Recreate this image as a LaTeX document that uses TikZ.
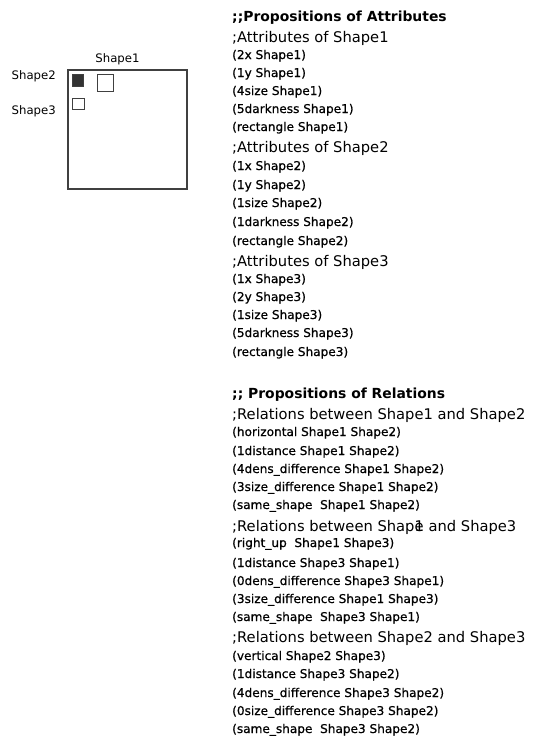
\documentclass[tikz,border=0pt]{standalone}
\usepackage{fontspec}
\setmainfont{DejaVu Sans}
\newfontfamily\propfont{DejaVu Sans}[FakeBold=0.7]
\usetikzlibrary{positioning}
\newcommand{\Shp}[1]{Shape#1}

\begin{document}
\begin{tikzpicture}[x=1pt,y=-1pt,
  ttl/.style={anchor=base west,inner sep=0pt,font=\fontsize{13.9}{16}\selectfont\bfseries},
  hd/.style={anchor=base west,inner sep=0pt,font=\fontsize{14.7}{17}\selectfont},
  prop/.style={anchor=base west,inner sep=0pt,font=\propfont\fontsize{12.1}{14}\selectfont},
  lbl/.style={inner sep=0pt,font=\fontsize{11.7}{14}\selectfont},
  shp/.style={draw=black!75,line width=1pt,inner sep=0pt}]
\useasboundingbox (0,0) rectangle (533,736);
% the scene
\node[shp,line width=1.3pt,minimum size=119pt] (canvas) at (127.5,129.5) {};
\node[shp,fill=black!80,minimum width=11pt,minimum height=12pt] (s2) at (77.5,80) {};
\node[shp,fill=white,minimum width=16pt,minimum height=17pt] (s1) at (105,82.5) {};
\node[shp,fill=white,minimum width=12pt,minimum height=11pt] (s3) at (78,103.5) {};
\node[lbl,above=4pt of canvas.north,xshift=-10pt] (l1) {\Shp1};
\node[lbl,anchor=east] (l2) at (56,76) {\Shp2};
\node[lbl,anchor=east] (l3) at (56,111) {\Shp3};
% propositions
\foreach \y/\s/\t [count=\i] in {
  21/ttl/{;;Propositions of Attributes},
  42/hd/{;Attributes of \Shp1},
  59/prop/{(2x \Shp1)},
  77/prop/{(1y \Shp1)},
  95/prop/{(4size \Shp1)},
  113/prop/{(5darkness \Shp1)},
  131/prop/{(rectangle \Shp1)},
  152/hd/{;Attributes of \Shp2},
  170/prop/{(1x \Shp2)},
  189/prop/{(1y \Shp2)},
  207/prop/{(1size \Shp2)},
  226/prop/{(1darkness \Shp2)},
  245/prop/{(rectangle \Shp2)},
  266/hd/{;Attributes of \Shp3},
  283/prop/{(1x \Shp3)},
  301/prop/{(2y \Shp3)},
  319/prop/{(1size \Shp3)},
  337/prop/{(5darkness \Shp3)},
  356/prop/{(rectangle \Shp3)},
  398/ttl/{;; Propositions of Relations},
  419/hd/{;Relations between \Shp1 and \Shp2},
  436/prop/{(horizontal \Shp1 \Shp2)},
  455/prop/{(1distance \Shp1 \Shp2)},
  473/prop/{(4dens\_difference \Shp1 \Shp2)},
  491/prop/{(3size\_difference \Shp1 \Shp2)},
  509/prop/{(same\_shape\ \ \Shp1 \Shp2)},
  531/hd/{;Relations between Shap\rlap{e}1 and \Shp3},
  547/prop/{(right\_up\ \ \Shp1 \Shp3)},
  567/prop/{(1distance \Shp3 \Shp1)},
  585/prop/{(0dens\_difference \Shp3 \Shp1)},
  603/prop/{(3size\_difference \Shp1 \Shp3)},
  621/prop/{(same\_shape\ \ \Shp3 \Shp1)},
  642/hd/{;Relations between \Shp2 and \Shp3},
  660/prop/{(vertical \Shp2 \Shp3)},
  678/prop/{(1distance \Shp3 \Shp2)},
  697/prop/{(4dens\_difference \Shp3 \Shp2)},
  715/prop/{(0size\_difference \Shp3 \Shp2)},
  733/prop/{(same\_shape\ \ \Shp3 \Shp2)}}
  \node[\s] (p\i) at (232,\y) {\t};
\end{tikzpicture}
\end{document}
